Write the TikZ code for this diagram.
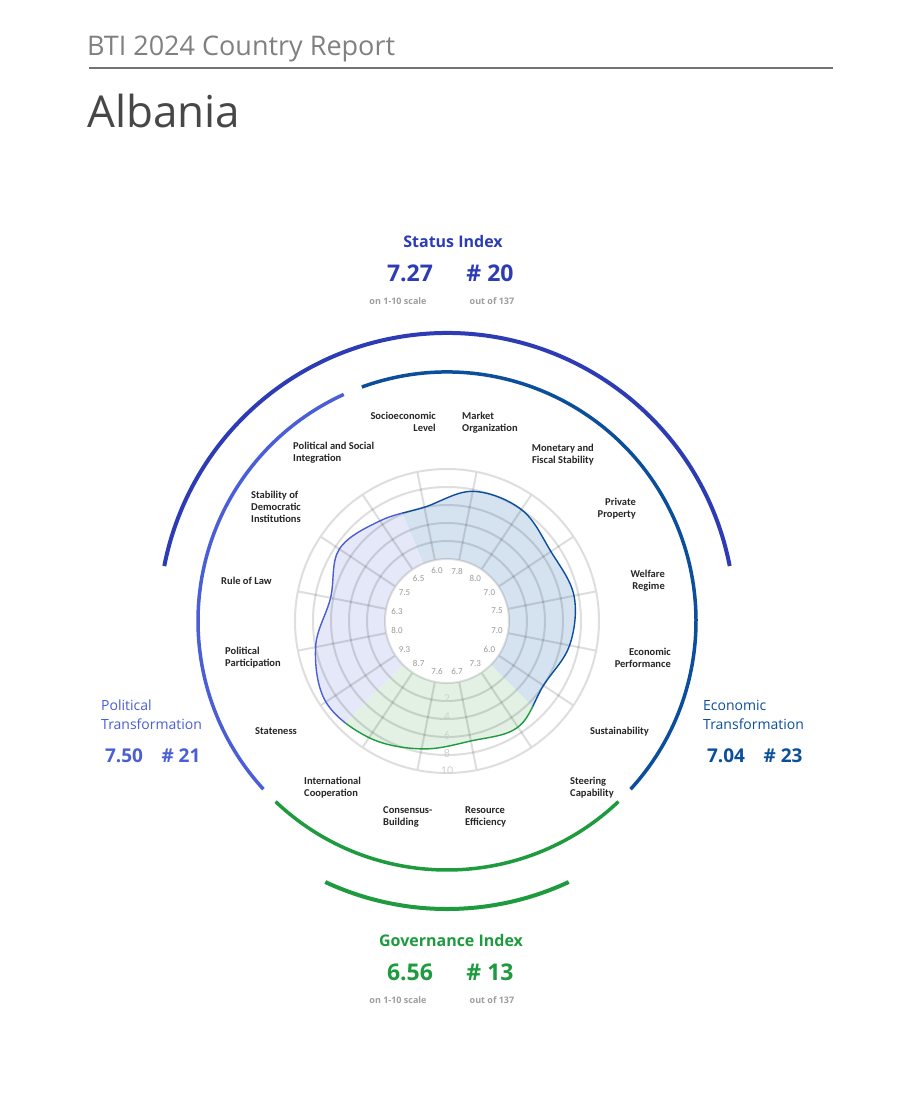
\documentclass[tikz,border=0pt]{standalone}
\usepackage{fontspec}
\setmainfont{Open Sans}
\newfontfamily\lab{Carlito}
\begin{document}
\begin{tikzpicture}[x=1pt,y=1pt,
  lbl/.style={font=\lab\bfseries\fontsize{10.5}{12}\selectfont,text=black!85,inner sep=0pt},
  ival/.style={font=\lab\fontsize{9}{10}\selectfont,text=black!40,inner sep=0pt},
  big/.style={font=\bfseries\fontsize{23}{26}\selectfont,inner sep=0pt},
  head/.style={font=\bfseries\fontsize{16}{18}\selectfont,inner sep=0pt},
  small/.style={font=\bfseries\fontsize{9}{10}\selectfont,text=black!38,inner sep=0pt},
  gridl/.style={draw=black,draw opacity=0.13,line width=2pt}]
\definecolor{statuscol}{HTML}{2D3CB5}
\definecolor{polcol}{HTML}{4A5ED6}
\definecolor{ecocol}{HTML}{0B4F9C}
\definecolor{govcol}{HTML}{1E9A3F}
\definecolor{polfill}{HTML}{E5E8F8}
\definecolor{ecofill}{HTML}{D5E3F1}
\definecolor{govfill}{HTML}{E2F1E4}
\useasboundingbox (0,0) rectangle (900,-1098);
\fill[white] (0,0) rectangle (900,-1098);
% header
\node[anchor=base west,inner sep=0pt,font=\fontsize{27}{30}\selectfont,text=black!50] (title) at (87,-55) {BTI 2024 Country Report};
\coordinate (r1) at (89,-68); \coordinate (r2) at (833,-68);
\draw[black!55,line width=1.6pt] (r1) -- (r2);
\node[anchor=base west,inner sep=0pt,font=\fontsize{44}{48}\selectfont,text=black!72] (country) at (87,-127) {Albania};
% chart
\begin{scope}[shift={(447,-621)}]
\def\curve{plot[smooth cycle,tension=0.6] coordinates{(78.75:132.2) (56.25:134) (33.75:125) (11.25:129.5) (-11.25:125) (-33.75:116) (-56.25:127.7) (-78.75:122.3) (-101.25:130.4) (-123.75:140.3) (-146.25:145.7) (-168.75:134) (168.75:118.7) (146.25:129.5) (123.75:120.5) (101.25:116)}}
\begin{scope}
\clip \curve;
\fill[ecofill] (0,0) -- (112.5:220) arc[start angle=112.5,end angle=-45,radius=220pt] -- cycle;
\fill[polfill] (0,0) -- (112.5:220) arc[start angle=112.5,end angle=225,radius=220pt] -- cycle;
\fill[govfill] (0,0) -- (225:220) arc[start angle=225,end angle=315,radius=220pt] -- cycle;
\end{scope}
\fill[white] (0,0) circle[radius=62pt];
\foreach \r in {62,80,98,116,134,152} \draw[gridl] (0,0) circle[radius=\r pt];
\foreach \a in {0,...,15} \draw[gridl] (78.75-22.5*\a:63) -- (78.75-22.5*\a:151);
\foreach \v in {2,4,6,8,10} \node[font=\lab\fontsize{12}{12}\selectfont,text=black!18,inner sep=0pt] at (-90:{60+9*\v}) {\v};
\begin{scope}
\clip (0,0) -- (112.5:220) arc[start angle=112.5,end angle=-45,radius=220pt] -- cycle;
\draw[ecocol,line width=1.4pt] \curve;
\end{scope}
\begin{scope}
\clip (0,0) -- (112.5:220) arc[start angle=112.5,end angle=225,radius=220pt] -- cycle;
\draw[polcol,line width=1.4pt] \curve;
\end{scope}
\begin{scope}
\clip (0,0) -- (225:220) arc[start angle=225,end angle=315,radius=220pt] -- cycle;
\draw[govcol,line width=1.4pt] \curve;
\end{scope}
\foreach \t [count=\i from 0] in {7.8,8.0,7.0,7.5,7.0,6.0,7.3,6.7,7.6,8.7,9.3,8.0,6.3,7.5,6.5,6.0}
  \node[ival] at (78.75-22.5*\i:51) {\t};
% arcs
\draw[statuscol,line width=4pt] (11:288) arc[start angle=11,end angle=169,radius=288pt];
\draw[govcol,line width=4pt] (-115:288) arc[start angle=-115,end angle=-65,radius=288pt];
\draw[ecocol,line width=3.5pt] (110:249) arc[start angle=110,end angle=-42.5,radius=249pt];
\draw[polcol,line width=3.5pt] (114.5:249) arc[start angle=114.5,end angle=222.5,radius=249pt];
\draw[govcol,line width=3.5pt] (226.5:249) arc[start angle=226.5,end angle=313.5,radius=249pt];
\end{scope}
% category labels
\node[lbl,anchor=north east,align=right] (soc) at (436,-412) {Socioeconomic\\Level};
\node[lbl,anchor=north west,align=left] (mar) at (462,-412) {Market\\Organization};
\node[lbl,anchor=north east,align=right] (mon) at (594,-444) {Monetary and\\Fiscal Stability};
\node[lbl,anchor=north east,align=right] (pri) at (636,-498) {Private\\Property};
\node[lbl,anchor=north east,align=right] (wel) at (665,-570) {Welfare\\Regime};
\node[lbl,anchor=north east,align=right] (eco) at (671,-648) {Economic\\Performance};
\node[lbl,anchor=north east,align=right] (sus) at (649,-727) {Sustainability};
\node[lbl,anchor=north west,align=left] (ste) at (570,-777) {Steering\\Capability};
\node[lbl,anchor=north west,align=left] (res) at (465,-806) {Resource\\Efficiency};
\node[lbl,anchor=north west,align=left] (con) at (383,-806) {Consensus-\\Building};
\node[lbl,anchor=north west,align=left] (int) at (304,-777) {International\\Cooperation};
\node[lbl,anchor=north west,align=left] (sta) at (255,-727) {Stateness};
\node[lbl,anchor=north west,align=left] (pp) at (225,-647) {Political\\Participation};
\node[lbl,anchor=north west,align=left] (rol) at (221,-577) {Rule of Law};
\node[lbl,anchor=north west,align=left] (sdi) at (251,-491) {Stability of\\Democratic\\Institutions};
\node[lbl,anchor=north west,align=left] (psi) at (293,-442) {Political and Social\\Integration};
% Status index
\node[head,text=statuscol] (sh) at (453,-241) {Status Index};
\node[big,text=statuscol] (sv) at (410,-273) {7.27};
\node[big,text=statuscol] (sr) at (490,-273) {\# 20};
\node[small] (ss1) at (398,-301) {on 1-10 scale};
\node[small] (ss2) at (492,-301) {out of 137};
% Governance index
\node[head,text=govcol] (gh) at (451,-940) {Governance Index};
\node[big,text=govcol] (gv) at (410,-972) {6.56};
\node[big,text=govcol] (gr) at (490,-972) {\# 13};
\node[small] (gs1) at (398,-1000) {on 1-10 scale};
\node[small] (gs2) at (492,-1000) {out of 137};
% Political
\node[anchor=north west,align=left,inner sep=0pt,font=\fontsize{14}{19}\selectfont,text=polcol] (ph) at (101,-700) {Political\\Transformation};
\node[anchor=center,inner sep=0pt,font=\bfseries\fontsize{19}{20}\selectfont,text=polcol] (pv) at (124,-756) {7.50};
\node[anchor=center,inner sep=0pt,font=\bfseries\fontsize{19}{20}\selectfont,text=polcol] (pr) at (181,-756) {\# 21};
% Economic
\node[anchor=north west,align=left,inner sep=0pt,font=\fontsize{14}{19}\selectfont,text=ecocol] (eh) at (703,-700) {Economic\\Transformation};
\node[anchor=center,inner sep=0pt,font=\bfseries\fontsize{19}{20}\selectfont,text=ecocol] (ev) at (726,-756) {7.04};
\node[anchor=center,inner sep=0pt,font=\bfseries\fontsize{19}{20}\selectfont,text=ecocol] (er) at (783,-756) {\# 23};
\end{tikzpicture}
\end{document}
